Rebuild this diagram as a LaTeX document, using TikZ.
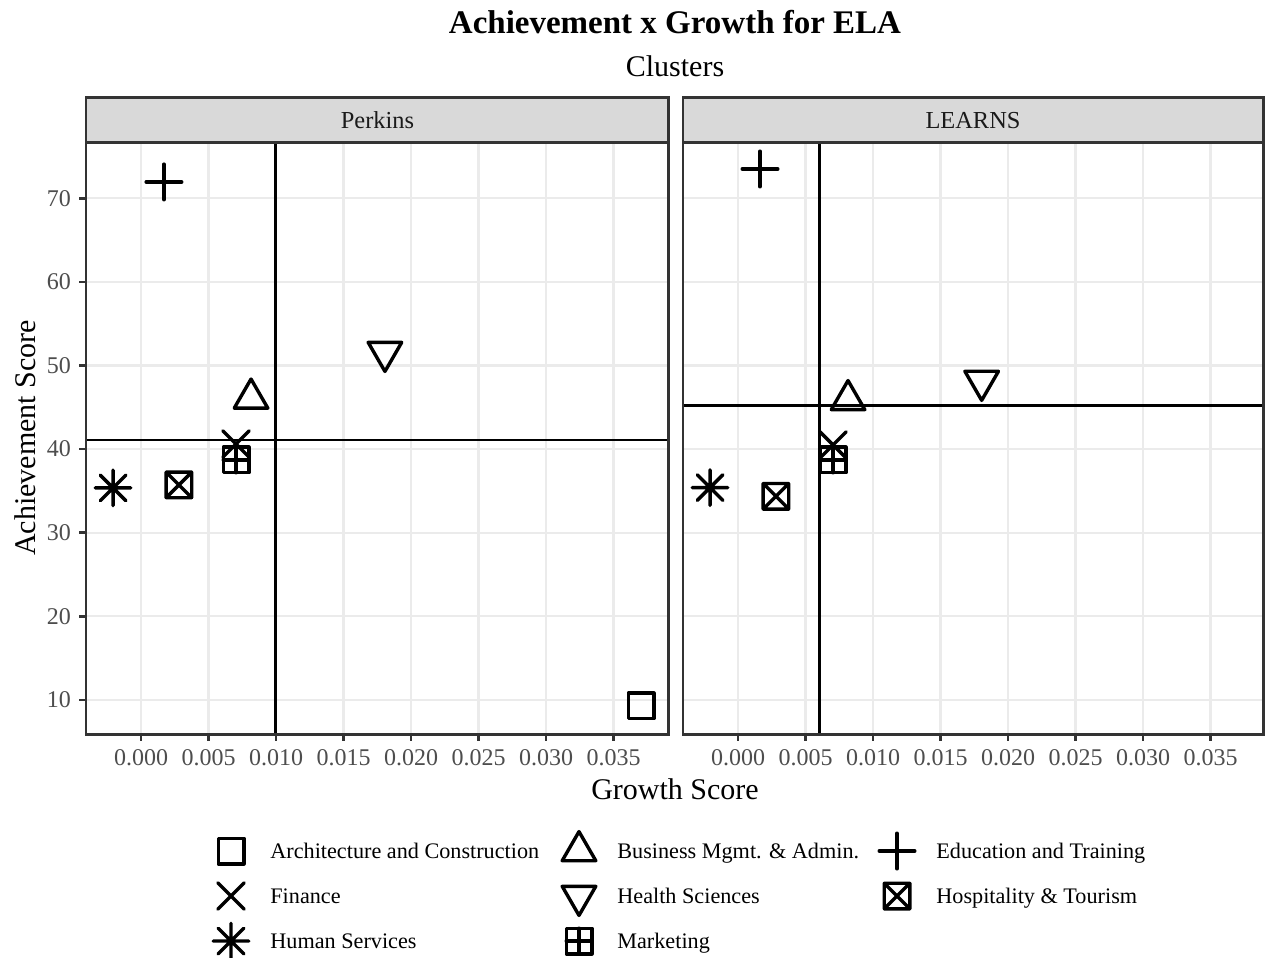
\documentclass[tikz,border=0pt]{standalone}
\usepackage{fontspec}
\setmainfont{Liberation Serif}

\definecolor{gridgray}{HTML}{EBEBEB}
\definecolor{framegray}{HTML}{333333}
\definecolor{stripgray}{HTML}{D9D9D9}
\definecolor{tickgray}{HTML}{4D4D4D}
\definecolor{striptext}{HTML}{1A1A1A}

\tikzset{
  mkline/.style={draw=black, line width=1.7pt, line cap=round, line join=round},
  mksq/.pic={\draw[mkline] (-6.4pt,-6.4pt) rectangle (6.4pt,6.4pt);},
  mktriup/.pic={\draw[mkline] (90:9.7pt) -- (210:9.7pt) -- (330:9.7pt) -- cycle;},
  mktridown/.pic={\draw[mkline] (270:9.7pt) -- (30:9.7pt) -- (150:9.7pt) -- cycle;},
  mkplus/.pic={\draw[mkline] (-8.9pt,0) -- (8.9pt,0) (0,-8.9pt) -- (0,8.9pt);},
  mkcross/.pic={\draw[mkline] (-6.6pt,-6.6pt) -- (6.6pt,6.6pt) (-6.6pt,6.6pt) -- (6.6pt,-6.6pt);},
  mkstar/.pic={\draw[mkline] (-8.9pt,0) -- (8.9pt,0) (0,-8.9pt) -- (0,8.9pt)
    (-6.4pt,-6.4pt) -- (6.4pt,6.4pt) (-6.4pt,6.4pt) -- (6.4pt,-6.4pt);},
  mksqcross/.pic={\draw[mkline] (-6.4pt,-6.4pt) rectangle (6.4pt,6.4pt)
    (-6.4pt,-6.4pt) -- (6.4pt,6.4pt) (-6.4pt,6.4pt) -- (6.4pt,-6.4pt);},
  mksqplus/.pic={\draw[mkline] (-6.4pt,-6.4pt) rectangle (6.4pt,6.4pt)
    (-6.4pt,0) -- (6.4pt,0) (0,-6.4pt) -- (0,6.4pt);}
}

\begin{document}
\begin{tikzpicture}[x=0.5pt, y=-0.5pt,
  gridline/.style={gridgray, line width=1.1pt},
  refline/.style={black, line width=1.4pt},
  panelframe/.style={framegray, line width=1.4pt},
  stripbox/.style={fill=stripgray, draw=framegray, line width=1.4pt},
  tickmark/.style={framegray, line width=1.3pt},
  xlab/.style={below=3.7pt, inner sep=0pt, text=tickgray, font=\fontsize{12}{14}\selectfont},
  ylab/.style={left=3.5pt, inner sep=0pt, text=tickgray, font=\fontsize{12}{14}\selectfont},
  striplabel/.style={anchor=base, inner sep=0pt, text=striptext, font=\fontsize{12.2}{14}\selectfont},
  axistitle/.style={anchor=base, inner sep=0pt, font=\fontsize{15}{18}\selectfont},
  legtext/.style={anchor=base west, inner sep=0pt, font=\fontsize{11.1}{13}\selectfont}]
\useasboundingbox (0,0) rectangle (1265,958);

%titles
\node[anchor=base, inner sep=0pt, font=\fontsize{16.5}{20}\selectfont\bfseries] (title) at (675,33) {Achievement x Growth for ELA};
\node[axistitle] (subtitle) at (675,76) {Clusters};
\node[axistitle] (xtitle) at (675,799) {Growth Score};
\node[axistitle, rotate=90] (ytitle) at (35,438) {Achievement Score};

%Perkins panel
\begin{scope}[shift={(141,783.6)}, x=6.75pt, y=4.181pt]
\draw[gridline]
(0,5.9) -- (0,76.7) (5,5.9) -- (5,76.7) (10,5.9) -- (10,76.7) (15,5.9) -- (15,76.7)
(20,5.9) -- (20,76.7) (25,5.9) -- (25,76.7) (30,5.9) -- (30,76.7) (35,5.9) -- (35,76.7)
(-4.07,10) -- (39.1,10) (-4.07,20) -- (39.1,20) (-4.07,30) -- (39.1,30) (-4.07,40) -- (39.1,40)
(-4.07,50) -- (39.1,50) (-4.07,60) -- (39.1,60) (-4.07,70) -- (39.1,70);
\draw[refline] (9.95,5.9) -- (9.95,76.7) (-4.07,41.1) -- (39.1,41.1);

\pic at (37.04,9.29) {mksq};
\pic at (8.15,46.06) {mktriup};
\pic at (1.70,71.95) {mkplus};
\pic at (7.04,40.61) {mkcross};
\pic at (18.07,51.61) {mktridown};
\pic at (2.81,35.72) {mksqcross};
\pic at (-2.07,35.36) {mkstar};
\pic at (7.04,38.70) {mksqplus};

\draw[stripbox] (-4.07,76.7) rectangle (39.1,82.08);
\draw[panelframe] (-4.07,5.9) rectangle (39.1,76.7);

%ticks
\draw[tickmark]
(0,5.9) -- ++(0,-3.4pt) node[xlab] (lx0) {0.000}
(5,5.9) -- ++(0,-3.4pt) node[xlab] (lx5) {0.005}
(10,5.9) -- ++(0,-3.4pt) node[xlab] (lx10) {0.010}
(15,5.9) -- ++(0,-3.4pt) node[xlab] (lx15) {0.015}
(20,5.9) -- ++(0,-3.4pt) node[xlab] (lx20) {0.020}
(25,5.9) -- ++(0,-3.4pt) node[xlab] (lx25) {0.025}
(30,5.9) -- ++(0,-3.4pt) node[xlab] (lx30) {0.030}
(35,5.9) -- ++(0,-3.4pt) node[xlab] (lx35) {0.035}
(-4.07,10) -- ++(-3.4pt,0) node[ylab] (ly10) {10}
(-4.07,20) -- ++(-3.4pt,0) node[ylab] (ly20) {20}
(-4.07,30) -- ++(-3.4pt,0) node[ylab] (ly30) {30}
(-4.07,40) -- ++(-3.4pt,0) node[ylab] (ly40) {40}
(-4.07,50) -- ++(-3.4pt,0) node[ylab] (ly50) {50}
(-4.07,60) -- ++(-3.4pt,0) node[ylab] (ly60) {60}
(-4.07,70) -- ++(-3.4pt,0) node[ylab] (ly70) {70};
\end{scope}
\node[striplabel] (perkins) at (377.5,128) {Perkins};

%LEARNS panel
\begin{scope}[shift={(738,783.6)}, x=6.75pt, y=4.181pt]
\draw[gridline]
(0,5.9) -- (0,76.7) (5,5.9) -- (5,76.7) (10,5.9) -- (10,76.7) (15,5.9) -- (15,76.7)
(20,5.9) -- (20,76.7) (25,5.9) -- (25,76.7) (30,5.9) -- (30,76.7) (35,5.9) -- (35,76.7)
(-4.07,10) -- (38.95,10) (-4.07,20) -- (38.95,20) (-4.07,30) -- (38.95,30) (-4.07,40) -- (38.95,40)
(-4.07,50) -- (38.95,50) (-4.07,60) -- (38.95,60) (-4.07,70) -- (38.95,70);
\draw[refline] (6.02,5.9) -- (6.02,76.7) (-4.07,45.25) -- (38.95,45.25);

\pic at (8.15,45.88) {mktriup};
\pic at (1.63,73.50) {mkplus};
\pic at (7.04,40.50) {mkcross};
\pic at (18.05,48.15) {mktridown};
\pic at (2.81,34.36) {mksqcross};
\pic at (-2.07,35.40) {mkstar};
\pic at (7.04,38.70) {mksqplus};

\draw[stripbox] (-4.07,76.7) rectangle (38.95,82.08);
\draw[panelframe] (-4.07,5.9) rectangle (38.95,76.7);

%ticks
\draw[tickmark]
(0,5.9) -- ++(0,-3.4pt) node[xlab] (rx0) {0.000}
(5,5.9) -- ++(0,-3.4pt) node[xlab] (rx5) {0.005}
(10,5.9) -- ++(0,-3.4pt) node[xlab] (rx10) {0.010}
(15,5.9) -- ++(0,-3.4pt) node[xlab] (rx15) {0.015}
(20,5.9) -- ++(0,-3.4pt) node[xlab] (rx20) {0.020}
(25,5.9) -- ++(0,-3.4pt) node[xlab] (rx25) {0.025}
(30,5.9) -- ++(0,-3.4pt) node[xlab] (rx30) {0.030}
(35,5.9) -- ++(0,-3.4pt) node[xlab] (rx35) {0.035};
\end{scope}
\node[striplabel] (learns) at (973,128) {LEARNS};

%legend
\pic at (231,851) {mksq};
\node[legtext] (lgarch) at (270,858.3) {Architecture and Construction};
\pic at (231,896) {mkcross};
\node[legtext] (lgfin) at (270,903.3) {Finance};
\pic at (231,941) {mkstar};
\node[legtext] (lghum) at (270,948.3) {Human Services};
\pic at (579,851) {mktriup};
\node[legtext] (lgbus) at (617,858.3) {Business Mgmt. \& Admin.};
\pic at (579,896) {mktridown};
\node[legtext] (lghea) at (617,903.3) {Health Sciences};
\pic at (579,941) {mksqplus};
\node[legtext] (lgmkt) at (617,948.3) {Marketing};
\pic at (897,851) {mkplus};
\node[legtext] (lgedu) at (936,858.3) {Education and Training};
\pic at (897,896) {mksqcross};
\node[legtext] (lghos) at (936,903.3) {Hospitality \& Tourism};
\end{tikzpicture}
\end{document}
